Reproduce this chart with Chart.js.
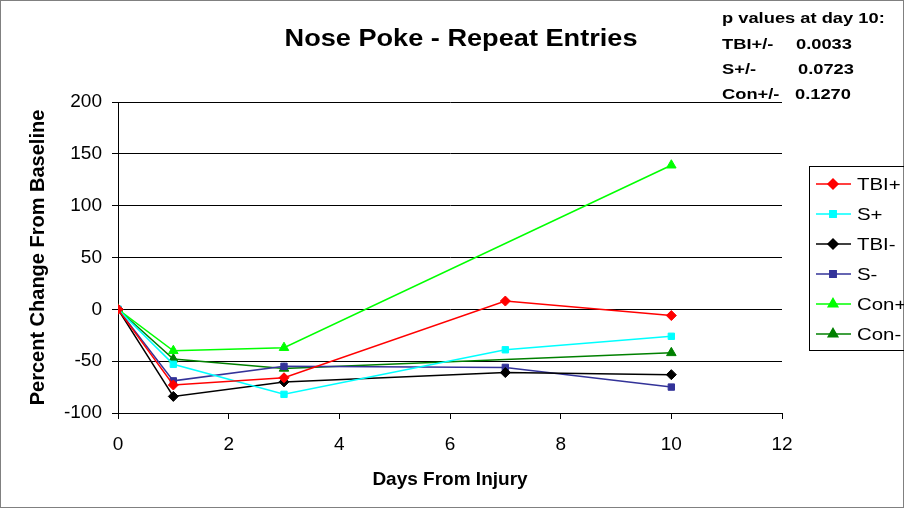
<!DOCTYPE html>
<html>
<head>
<meta charset="utf-8">
<script src="https://cdn.jsdelivr.net/npm/chart.js@4"></script>
<style>
  html, body { margin: 0; padding: 0; background: #fff; }
  #wrap { width: 904px; height: 508px; }
</style>
</head>
<body>
<div id="wrap"><canvas id="grafico" width="904" height="508"></canvas></div>
<script>
const dias = [0, 1, 3, 7, 10];
const tbiMais = [0, -73, -66, 8, -6];
const sMais = [0, -53, -82, -39, -26];
const tbiMenos = [0, -84, -70, -61, -63];
const sMenos = [0, -69, -55, -56, -75];
const conMais = [0, -40, -37, null, 139];
const conMenos = [0, -48, -57, null, -42];
const yTicks = [-100, -50, 0, 50, 100, 150, 200];
const xTicks = [0, 2, 4, 6, 8, 10, 12];
const pValores = [
    ['TBI+/-', '0.0033'],
    ['S+/-', '0.0723'],
    ['Con+/-', '0.1270']
];

const FONTE = '"Liberation Sans", Arial, sans-serif';

function serie(label, valores, cor, estilo, raio) {
    return {
        label: label,
        data: dias.map((d, i) => ({ x: d, y: valores[i] })),
        borderColor: cor,
        backgroundColor: cor,
        borderWidth: 1.5,
        pointStyle: estilo,
        pointRadius: raio,
        pointHoverRadius: raio,
        pointBorderWidth: 1,
        spanGaps: true,
        tension: 0
    };
}

const datasets = [
    serie('TBI+', tbiMais, '#ff0000', 'rectRot', 5),
    serie('S+', sMais, '#00ffff', 'rect', 4.5),
    serie('TBI-', tbiMenos, '#000000', 'rectRot', 5),
    serie('S-', sMenos, '#333399', 'rect', 4.5),
    serie('Con+', conMais, '#00ff00', 'triangle', 5.5),
    serie('Con-', conMenos, '#008000', 'triangle', 5.5)
];

// texto esticado na horizontal, como no original
function textoLargo(c, texto, x, y, alinhamento, esticar) {
    c.save();
    c.translate(x, y);
    c.scale(esticar, 1);
    c.textAlign = alinhamento;
    c.fillText(texto, 0, 0);
    c.restore();
}

// textos extras, moldura e legenda
const extras = {
    id: 'extras',
    beforeDraw(chart) {
        const c = chart.ctx;
        c.save();
        c.fillStyle = '#fff';
        c.fillRect(0, 0, chart.width, chart.height);
        c.restore();
    },
    afterDraw(chart) {
        const c = chart.ctx;
        c.save();
        c.strokeStyle = '#808080';
        c.lineWidth = 1;
        c.strokeRect(0.5, 0.5, chart.width - 1, chart.height - 1);

        c.fillStyle = '#000';
        c.textBaseline = 'middle';
        c.font = 'bold 23px ' + FONTE;
        textoLargo(c, 'Nose Poke - Repeat Entries', 461, 40, 'center', 1.18);

        c.font = 'bold 15px ' + FONTE;
        textoLargo(c, 'p values at day 10:', 722, 19, 'left', 1.22);
        const xs = [796, 798, 795];
        pValores.forEach((p, i) => {
            const y = 45 + i * 25;
            textoLargo(c, p[0], 722, y, 'left', 1.22);
            textoLargo(c, p[1], xs[i], y, 'left', 1.22);
        });

        // legenda
        c.strokeStyle = '#000';
        c.strokeRect(809.5, 166.5, 100, 184);
        c.font = '17px ' + FONTE;
        chart.data.datasets.forEach((ds, i) => {
            const y = 184 + i * 30;
            c.strokeStyle = ds.borderColor;
            c.lineWidth = 1.5;
            c.beginPath();
            c.moveTo(816, y);
            c.lineTo(851, y);
            c.stroke();
            Chart.helpers.drawPoint(c, {
                pointStyle: ds.pointStyle,
                radius: ds.pointRadius,
                borderWidth: 1,
                rotation: 0
            }, 833, y);
            c.fillStyle = ds.borderColor;
            c.fill();
            c.fillStyle = '#000';
            textoLargo(c, ds.label, 857, y + 1, 'left', 1.2);
        });
        c.restore();
    }
};

const ctx = document.getElementById('grafico').getContext('2d');
new Chart(ctx, {
    type: 'line',
    data: { datasets: datasets },
    options: {
        responsive: false,
        animation: false,
        layout: { padding: { left: 0, right: 122, top: 102, bottom: 0 } },
        plugins: {
            legend: { display: false },
            tooltip: { enabled: false }
        },
        scales: {
            x: {
                type: 'linear',
                min: 0,
                max: 12,
                afterFit: s => { s.height = 95; },
                afterBuildTicks: s => { s.ticks = xTicks.map(v => ({ value: v })); },
                grid: {
                    drawOnChartArea: false,
                    color: '#000',
                    tickLength: 6,
                    tickColor: '#000'
                },
                border: { color: '#000', width: 1 },
                ticks: {
                    color: '#000',
                    padding: 14,
                    font: { family: FONTE, size: 19 }
                },
                title: {
                    display: true,
                    text: 'Days From Injury',
                    color: '#000',
                    padding: { top: 0, bottom: 17 },
                    font: { family: FONTE, size: 19, weight: 'bold' }
                }
            },
            y: {
                min: -100,
                max: 200,
                afterFit: s => { s.width = 118; },
                afterBuildTicks: s => { s.ticks = yTicks.map(v => ({ value: v })); },
                grid: {
                    color: '#000',
                    lineWidth: 1,
                    tickLength: 6,
                    tickColor: '#000'
                },
                border: { color: '#000', width: 1 },
                ticks: {
                    color: '#000',
                    padding: 10,
                    font: { family: FONTE, size: 19 }
                },
                title: {
                    display: true,
                    text: 'Percent Change From Baseline',
                    color: '#000',
                    padding: { top: 26, bottom: 0 },
                    font: { family: FONTE, size: 20, weight: 'bold' }
                }
            }
        }
    },
    plugins: [extras]
});
</script>
</body>
</html>
